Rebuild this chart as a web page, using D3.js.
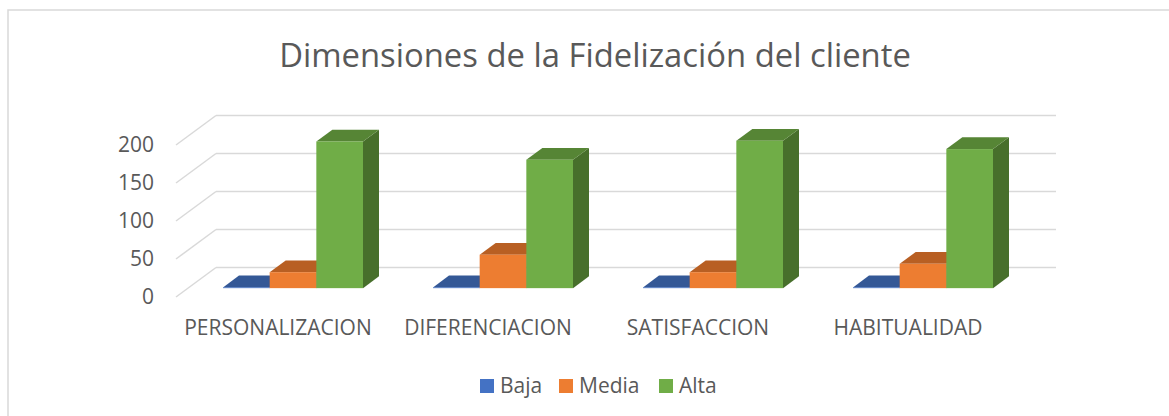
<!DOCTYPE html>
<html>
<head>
<meta charset="utf-8">
<script src="https://cdn.jsdelivr.net/npm/d3@7"></script>
<style>
  body { margin: 0; background: #fff; }
  text { font-family: "Open Sans", sans-serif; fill: #595959; }
</style>
</head>
<body>
<div id="chart"></div>
<script>
const categories = ["PERSONALIZACION", "DIFERENCIACION", "SATISFACCION", "HABITUALIDAD"];
const series = ["Baja", "Media", "Alta"];
const baja = [1, 1, 1, 1];
const media = [21, 44, 21, 32];
const alta = [193, 169, 194, 183];
const yTicks = [0, 50, 100, 150, 200];
const title = "Dimensiones de la Fidelización del cliente";

const colors = {
  Baja:  { front: "#4472C4", top: "#345896", side: "#2B4A80" },
  Media: { front: "#ED7D31", top: "#B85F23", side: "#9C501D" },
  Alta:  { front: "#70AD47", top: "#568535", side: "#476F2B" }
};

const values = { Baja: baja, Media: media, Alta: alta };
const rows = [];
categories.forEach((c, i) => series.forEach(s => rows.push({ cat: c, s: s, v: values[s][i] })));

const W = 1169, H = 416;
const svg = d3.select("#chart").append("svg").attr("width", W).attr("height", H);

// frame
svg.append("rect").attr("x", 8).attr("y", 10).attr("width", W).attr("height", H)
  .attr("fill", "none").attr("stroke", "#d9d9d9").attr("stroke-width", 1.5);

// 3D depth offset (full depth of the floor)
const depthX = 40, depthY = -29.5;
const dFront = 0.3, dBack = 0.7;

const x0 = d3.scaleBand().domain(categories).range([176, 1016]);
const x1 = d3.scaleBand().domain(series).range([0, x0.bandwidth()]).paddingOuter(0.75);
const y = d3.scaleLinear().domain([0, 200]).range([297, 145]);

// walls gridlines
const grid = svg.append("g");
yTicks.forEach(t => {
  grid.append("line")
    .attr("x1", x0.range()[0]).attr("y1", y(t))
    .attr("x2", x0.range()[0] + depthX).attr("y2", y(t) + depthY)
    .attr("stroke", "#d9d9d9").attr("stroke-width", 1.5);
  grid.append("line")
    .attr("x1", x0.range()[0] + depthX).attr("y1", y(t) + depthY)
    .attr("x2", x0.range()[1] + depthX).attr("y2", y(t) + depthY)
    .attr("stroke", "#d9d9d9").attr("stroke-width", 1.5);
});

// y tick labels
svg.append("g").selectAll("text").data(yTicks).enter().append("text")
  .attr("x", 154).attr("y", d => y(d))
  .attr("dy", "0.35em")
  .attr("text-anchor", "end")
  .style("font-size", "21px")
  .text(d => d);

// bars
const fx = dFront * depthX, fy = dFront * depthY;
const bx = (dBack - dFront) * depthX, by = (dBack - dFront) * depthY;
const bars = svg.append("g").selectAll("g").data(rows).enter().append("g");

bars.each(function (d) {
  const g = d3.select(this);
  const xl = x0(d.cat) + x1(d.s) + fx;
  const xr = xl + x1.bandwidth();
  const yb = y(0) + fy;
  const yt = y(d.v) + fy;
  const c = colors[d.s];
  // side
  g.append("path")
    .attr("d", `M${xr},${yb}L${xr + bx},${yb + by}L${xr + bx},${yt + by}L${xr},${yt}Z`)
    .attr("fill", c.side);
  // top
  g.append("path")
    .attr("d", `M${xl},${yt}L${xl + bx},${yt + by}L${xr + bx},${yt + by}L${xr},${yt}Z`)
    .attr("fill", c.top);
  // front
  g.append("rect")
    .attr("x", xl).attr("y", yt)
    .attr("width", x1.bandwidth()).attr("height", yb - yt)
    .attr("fill", c.front);
});

// category labels
svg.append("g").selectAll("text").data(categories).enter().append("text")
  .attr("x", d => x0(d) + x0.bandwidth() / 2 - 3)
  .attr("y", 335)
  .attr("text-anchor", "middle")
  .style("font-size", "21px")
  .text(d => d);

// title
svg.append("text")
  .attr("x", 595).attr("y", 67)
  .attr("text-anchor", "middle")
  .style("font-size", "32.8px")
  .text(title);

// legend
const legendX = [480, 559, 659];
const legend = svg.append("g").selectAll("g").data(series).enter().append("g")
  .attr("transform", (d, i) => `translate(${legendX[i]},379)`);
legend.append("rect").attr("width", 14).attr("height", 14).attr("fill", d => colors[d].front);
legend.append("text").attr("x", 20).attr("y", 7).attr("dy", "0.35em")
  .style("font-size", "21px").text(d => d);
</script>
</body>
</html>
